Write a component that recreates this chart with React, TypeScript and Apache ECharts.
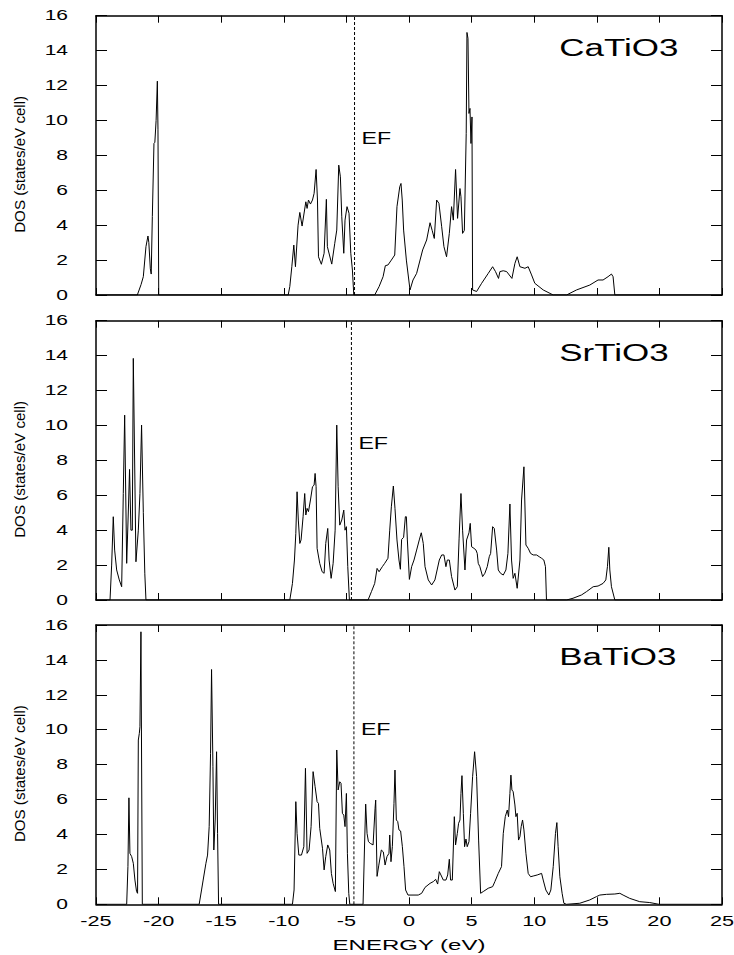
import React, { useEffect, useRef } from "react";
import * as echarts from "echarts";

const X_MIN = -25;
const X_MAX = 25;
const X_STEP = 5;
const Y_MIN = 0;
const Y_MAX = 16;
const Y_STEP = 2;

const xTickValues = [-25, -20, -15, -10, -5, 0, 5, 10, 15, 20, 25];
const yTickValues = [0, 2, 4, 6, 8, 10, 12, 14, 16];
const panelNames = ["CaTiO3", "SrTiO3", "BaTiO3"];
const fermiLevels = [-4.35, -4.6, -4.4];
const efLabelHeights = [9, 9, 10];
const xAxisTitle = "ENERGY (eV)";
const yAxisTitle = "DOS (states/eV cell)";
const efLabel = "EF";

const caTiO3Dos = [
  [-25, 0], [-21.7, 0], [-21.4, 0.6], [-21.22, 1.05], [-21.01, 2.77], [-20.85, 3.38], [-20.78, 3.0],
  [-20.66, 1.5], [-20.59, 1.2], [-20.5, 4.5], [-20.37, 8.68], [-20.3, 8.75], [-20.2, 10.0], [-20.1, 12.25],
  [-20.05, 9.5], [-19.99, 0],
  [-9.65, 0], [-9.52, 0.48], [-9.36, 1.62], [-9.2, 2.86], [-9.07, 1.62], [-8.86, 4.0], [-8.72, 4.73],
  [-8.54, 3.95], [-8.24, 5.34], [-8.14, 4.96], [-8.03, 5.44], [-7.87, 5.21], [-7.71, 5.44], [-7.58, 5.82],
  [-7.42, 7.19], [-7.31, 5.44], [-7.23, 2.19], [-7.0, 1.76], [-6.78, 2.39], [-6.6, 5.48], [-6.52, 2.77],
  [-6.17, 1.77], [-5.93, 2.96], [-5.77, 3.72], [-5.61, 7.44], [-5.48, 6.77], [-5.37, 4.48], [-5.21, 2.39],
  [-5.11, 4.29], [-4.95, 5.06], [-4.79, 4.68], [-4.65, 2.39], [-4.52, 1.43], [-4.41, 0],
  [-2.74, 0], [-2.39, 0.48], [-2.07, 1.05], [-1.89, 1.68], [-1.68, 1.72], [-1.41, 2.0], [-1.14, 2.29],
  [-0.96, 5.06], [-0.74, 6.2], [-0.64, 6.39], [-0.54, 5.44], [-0.43, 3.72], [-0.21, 2.0], [0.08, 0.29],
  [0.32, 0.86], [0.61, 1.24], [1.09, 2.58], [1.41, 3.15], [1.68, 4.14], [1.85, 3.7], [2.02, 3.24],
  [2.21, 5.44], [2.39, 5.25], [2.61, 3.91], [2.79, 2.77], [3.0, 2.19], [3.22, 3.53], [3.4, 5.06],
  [3.54, 4.29], [3.72, 7.19], [3.88, 4.39], [4.07, 6.1], [4.15, 5.63], [4.28, 3.53], [4.42, 3.7],
  [4.57, 9.26], [4.63, 15.04], [4.71, 14.7], [4.79, 10.4], [4.87, 10.69], [4.95, 8.68], [5.03, 10.2],
  [5.08, 0.29], [5.4, 0.2], [5.8, 0.67], [6.33, 1.24], [6.68, 1.62], [6.91, 1.34], [7.15, 0.95],
  [7.26, 1.34], [7.53, 1.39], [7.8, 1.34], [8.22, 0.95], [8.46, 1.81], [8.64, 2.19], [8.86, 1.62],
  [9.26, 1.53], [9.52, 1.62], [9.79, 1.15], [10.05, 0.67], [10.72, 0.29], [11.52, 0], [12.58, 0],
  [13.38, 0.29], [14.44, 0.57], [15.1, 0.86], [15.5, 0.86], [15.9, 1.05], [16.17, 1.2], [16.3, 1.05],
  [16.44, 0], [25, 0],
];

const srTiO3Dos = [
  [-25, 0], [-23.88, 0], [-23.75, 2.0], [-23.62, 4.77], [-23.51, 2.86], [-23.35, 1.72], [-23.14, 1.15],
  [-22.95, 0.76], [-22.82, 6.1], [-22.71, 10.59], [-22.55, 2.1], [-22.4, 5.5], [-22.32, 7.48],
  [-22.21, 4.0], [-22.1, 4.0], [-22.02, 13.84], [-21.81, 2.19], [-21.62, 4.0], [-21.49, 6.1],
  [-21.36, 10.02], [-21.22, 5.0], [-21.1, 1.5], [-21.01, 0],
  [-9.52, 0], [-9.31, 0.95], [-9.15, 2.29], [-9.04, 3.82], [-8.94, 6.2], [-8.84, 4.58], [-8.72, 3.24],
  [-8.62, 3.44], [-8.46, 4.77], [-8.33, 6.1], [-8.24, 4.87], [-8.14, 5.25], [-8.03, 5.06], [-7.87, 5.73],
  [-7.71, 6.49], [-7.58, 6.58], [-7.5, 7.25], [-7.42, 6.49], [-7.34, 2.96], [-7.13, 2.1], [-6.94, 1.62],
  [-6.78, 1.53], [-6.65, 3.24], [-6.49, 4.1], [-6.38, 2.29], [-6.22, 1.24], [-6.06, 2.1], [-5.9, 4.0],
  [-5.77, 10.02], [-5.66, 6.49], [-5.53, 4.29], [-5.37, 4.58], [-5.21, 5.15], [-5.11, 4.0], [-5.0, 4.2],
  [-4.89, 1.91], [-4.76, 0],
  [-3.27, 0], [-3.0, 0.48], [-2.74, 0.95], [-2.55, 1.81], [-2.39, 1.62], [-2.13, 1.91], [-1.94, 2.1],
  [-1.68, 2.39], [-1.54, 4.0], [-1.41, 5.34], [-1.25, 6.53], [-1.12, 5.25], [-0.96, 3.44], [-0.8, 2.29],
  [-0.69, 1.76], [-0.59, 3.47], [-0.43, 3.59], [-0.29, 4.77], [-0.21, 4.77], [-0.13, 3.44], [0.03, 1.18],
  [0.21, 1.91], [0.4, 2.29], [0.61, 2.86], [0.82, 3.44], [0.98, 3.85], [1.14, 3.24], [1.28, 1.91],
  [1.54, 1.15], [1.81, 0.86], [2.07, 1.15], [2.42, 2.29], [2.61, 2.58], [2.79, 2.58], [2.95, 1.91],
  [3.06, 2.29], [3.22, 2.29], [3.4, 1.34], [3.67, 0.57], [3.86, 0.76], [4.0, 3.5], [4.15, 6.1],
  [4.28, 4.0], [4.47, 1.72], [4.6, 3.44], [4.79, 3.85], [4.89, 4.39], [5.0, 3.05], [5.19, 2.96],
  [5.35, 2.86], [5.45, 2.67], [5.53, 2.1], [5.66, 1.91], [5.88, 1.34], [6.06, 1.53], [6.25, 1.91],
  [6.41, 2.48], [6.52, 2.67], [6.68, 4.2], [6.81, 4.1], [7.0, 2.86], [7.13, 1.72], [7.31, 1.53],
  [7.53, 1.43], [7.74, 1.72], [7.9, 2.67], [8.06, 5.5], [8.19, 2.29], [8.32, 1.24], [8.46, 1.53],
  [8.64, 0.67], [8.86, 2.29], [8.99, 5.73], [9.18, 7.63], [9.34, 3.15], [9.52, 2.96], [9.71, 2.67],
  [9.92, 2.58], [10.19, 2.58], [10.4, 2.48], [10.59, 2.39], [10.77, 2.29], [10.9, 1.91], [10.98, 0],
  [12.58, 0], [13.1, 0.1], [13.78, 0.29], [14.18, 0.48], [14.71, 0.76], [15.1, 0.8], [15.5, 0.95],
  [15.72, 1.15], [15.85, 1.91], [15.96, 3.02], [16.04, 1.72], [16.17, 0.76], [16.44, 0], [25, 0],
];

const baTiO3Dos = [
  [-25, 0], [-22.55, 0], [-22.45, 2.16], [-22.37, 6.1], [-22.29, 2.92], [-22.15, 2.73], [-22.02, 2.35],
  [-21.89, 1.39], [-21.76, 0.73], [-21.68, 0.63], [-21.62, 9.41], [-21.54, 9.79], [-21.49, 10.17],
  [-21.41, 15.61], [-21.3, 0],
  [-16.76, 0], [-16.57, 0.82], [-16.44, 1.39], [-16.22, 2.35], [-16.09, 2.82], [-15.96, 4.45],
  [-15.85, 8.65], [-15.77, 13.45], [-15.66, 7.88], [-15.59, 3.11], [-15.48, 4.83], [-15.37, 8.74],
  [-15.29, 4.06], [-15.21, 0],
  [-9.31, 0], [-9.18, 0.82], [-9.04, 5.88], [-8.94, 4.06], [-8.8, 2.82], [-8.59, 2.82], [-8.4, 3.3],
  [-8.27, 7.79], [-8.14, 2.92], [-7.98, 3.11], [-7.82, 4.45], [-7.66, 7.6], [-7.5, 6.74], [-7.34, 5.88],
  [-7.23, 5.78], [-7.13, 4.35], [-6.91, 3.21], [-6.78, 1.97], [-6.65, 2.73], [-6.49, 3.4], [-6.33, 3.11],
  [-6.2, 1.77], [-6.06, 1.2], [-5.88, 0.73], [-5.77, 8.84], [-5.66, 6.55], [-5.53, 7.02], [-5.43, 6.93],
  [-5.32, 5.21], [-5.21, 5.11], [-5.11, 4.45], [-5.0, 6.35], [-4.92, 2.92], [-4.81, 0.63], [-4.73, 0],
  [-3.67, 0], [-3.56, 3.11], [-3.46, 5.74], [-3.35, 4.06], [-3.24, 3.59], [-3.09, 3.49], [-2.87, 3.4],
  [-2.71, 5.5], [-2.66, 5.97], [-2.55, 1.6], [-2.42, 2.2], [-2.21, 3.11], [-2.05, 3.0], [-1.91, 2.25],
  [-1.76, 2.73], [-1.6, 2.92], [-1.54, 3.97], [-1.44, 2.44], [-1.33, 3.3], [-1.2, 5.78], [-1.12, 7.69],
  [-1.01, 4.83], [-0.9, 4.74], [-0.8, 4.26], [-0.67, 4.2], [-0.53, 3.3], [-0.4, 2.16], [-0.27, 0.82],
  [-0.08, 0.53], [0.74, 0.53], [1.01, 0.63], [1.28, 0.97], [1.68, 1.2], [1.94, 1.3], [2.13, 1.43],
  [2.29, 1.16], [2.42, 1.87], [2.55, 1.68], [2.74, 1.39], [2.95, 1.39], [3.09, 1.68], [3.22, 2.58],
  [3.32, 1.39], [3.46, 1.39], [3.62, 5.02], [3.72, 3.4], [3.86, 4.06], [3.96, 4.64], [4.07, 4.83],
  [4.15, 6.35], [4.23, 7.37], [4.34, 5.21], [4.44, 3.3], [4.55, 3.74], [4.65, 3.3], [4.79, 3.59],
  [4.92, 5.21], [5.08, 7.31], [5.24, 8.74], [5.4, 7.31], [5.56, 3.68], [5.72, 0.63], [5.93, 0.73],
  [6.33, 0.92], [6.68, 1.01], [6.86, 1.3], [7.13, 1.77], [7.39, 2.16], [7.53, 4.06], [7.69, 5.02],
  [7.85, 5.4], [7.95, 5.02], [8.06, 6.35], [8.14, 7.4], [8.22, 6.55], [8.32, 6.45], [8.46, 5.69],
  [8.54, 5.02], [8.64, 5.21], [8.75, 3.68], [8.86, 3.87], [8.96, 4.45], [9.07, 4.83], [9.18, 4.26],
  [9.34, 2.92], [9.52, 1.77], [9.71, 1.58], [9.92, 1.62], [10.24, 1.68], [10.59, 1.77], [10.72, 1.39],
  [10.93, 0.82], [11.17, 0.53], [11.33, 0.82], [11.52, 2.16], [11.7, 4.06], [11.81, 4.68], [11.91, 3.3],
  [12.05, 1.58], [12.23, 0.63], [12.37, 0.06], [12.58, 0], [13.64, 0.06], [14.44, 0.25], [14.97, 0.44],
  [15.24, 0.53], [15.77, 0.57], [16.44, 0.59], [16.84, 0.63], [17.1, 0.53], [17.63, 0.34], [18.43, 0.15],
  [19.23, 0.1], [19.97, 0], [25, 0],
];

const panelData = [caTiO3Dos, srTiO3Dos, baTiO3Dos];

const FONT = '"Liberation Sans", Arial, Helvetica, sans-serif';
const PANEL_TOPS = [15.7, 320.7, 625];
const PANEL_LEFT = 96;
const PANEL_WIDTH = 626;
const PANEL_HEIGHT = 279.3;

function txt(text: string, x: number, y: number, size: number, align: string, scaleX: number, rotation = 0) {
  return {
    type: "text",
    x,
    y,
    scaleX,
    scaleY: 1,
    rotation,
    silent: true,
    style: {
      text,
      fill: "#000",
      fontSize: size,
      fontFamily: FONT,
      font: `${size}px ${FONT}`,
      align,
      textAlign: align,
      verticalAlign: "middle",
      textVerticalAlign: "middle",
    },
  };
}

export default function App() {
  const ref = useRef<HTMLDivElement>(null);

  useEffect(() => {
    if (!ref.current) return;
    const chart = echarts.init(ref.current, null, { renderer: "svg" });

    const axisLine = { show: true, onZero: false, lineStyle: { color: "#000", width: 1.5 } };
    const xAxes: any[] = [];
    const yAxes: any[] = [];
    const series: any[] = [];
    panelNames.forEach((_, i) => {
      ["bottom", "top"].forEach((pos) => {
        xAxes.push({
          gridIndex: i,
          type: "value",
          position: pos,
          min: X_MIN,
          max: X_MAX,
          interval: X_STEP,
          axisLine,
          axisTick: { show: true, inside: true, length: 7, lineStyle: { color: "#000", width: 1 } },
          axisLabel: { show: false },
          splitLine: { show: false },
        });
      });
      ["left", "right"].forEach((pos) => {
        yAxes.push({
          gridIndex: i,
          type: "value",
          position: pos,
          min: Y_MIN,
          max: Y_MAX,
          interval: Y_STEP,
          axisLine,
          axisTick: { show: true, inside: true, length: 11, lineStyle: { color: "#000", width: 1 } },
          axisLabel: { show: false },
          splitLine: { show: false },
        });
      });
      series.push({
        type: "line",
        name: panelNames[i],
        xAxisIndex: i * 2,
        yAxisIndex: i * 2,
        data: panelData[i],
        symbol: "none",
        silent: true,
        lineStyle: { color: "#000", width: 1 },
      });
      series.push({
        type: "line",
        name: efLabel + i,
        xAxisIndex: i * 2,
        yAxisIndex: i * 2,
        data: [[fermiLevels[i], Y_MIN], [fermiLevels[i], Y_MAX]],
        symbol: "none",
        silent: true,
        lineStyle: { color: "#000", width: 1, type: [3, 2] },
      });
    });

    chart.setOption({
      animation: false,
      backgroundColor: "#fff",
      grid: PANEL_TOPS.map((top) => ({ left: PANEL_LEFT, width: PANEL_WIDTH, top, height: PANEL_HEIGHT })),
      xAxis: xAxes,
      yAxis: yAxes,
      series,
    });

    const g: any[] = [];
    panelNames.forEach((name, i) => {
      const conv = (x: number, y: number) => chart.convertToPixel({ seriesIndex: i * 2 }, [x, y]) as number[];
      yTickValues.forEach((v) => {
        const p = conv(X_MIN, v);
        g.push(txt(String(v), p[0] - 28, p[1], 14, "right", 1.5));
      });
      const t = conv(12, 14.15);
      g.push(txt(name, t[0], t[1], 23, "left", 1.52));
      const e = conv(fermiLevels[i], efLabelHeights[i]);
      g.push(txt(efLabel, e[0] + 7, e[1], 16, "left", 1.45));
      const mid = conv(X_MIN, (Y_MIN + Y_MAX) / 2);
      g.push(txt(yAxisTitle, 20.5, mid[1] + 9, 14, "center", 1.08, Math.PI / 2));
      if (i === panelNames.length - 1) {
        xTickValues.forEach((v) => {
          const p = conv(v, Y_MIN);
          g.push(txt(String(v), p[0], p[1] + 17, 14, "center", 1.55));
        });
        const c = conv(0, Y_MIN);
        g.push(txt(xAxisTitle, c[0], c[1] + 40, 15, "center", 1.6));
      }
    });
    chart.setOption({ graphic: g });

    return () => chart.dispose();
  }, []);

  return (
    <div
      ref={ref}
      style={{ position: "absolute", left: 0, top: 0, width: 734, height: 955, background: "#fff" }}
    />
  );
}
